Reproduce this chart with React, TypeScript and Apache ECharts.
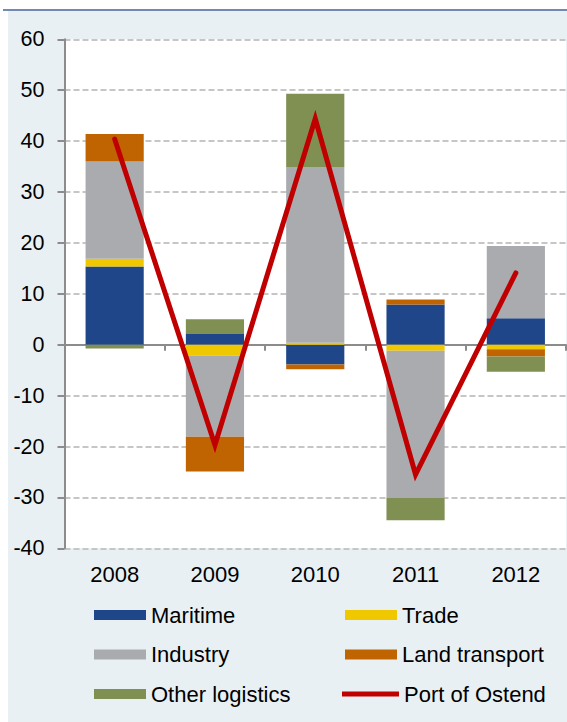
import React, { useEffect, useRef } from "react";
import * as echarts from "echarts";

const years = ["2008", "2009", "2010", "2011", "2012"];
const maritime = [15.35, 2.1, -3.9, 7.9, 5.2];
const trade = [1.55, -2.1, 0.4, -1.2, -0.9];
const industry = [19.1, -16.0, 34.5, -28.9, 14.2];
const landTransport = [5.4, -6.8, -0.9, 1.0, -1.4];
const otherLogistics = [-0.75, 2.9, 14.4, -4.4, -3.0];
const portOfOstend = [40.4, -19.7, 44.4, -25.5, 14.1];

const colors = {
  Maritime: "#20468A",
  Trade: "#F0C800",
  Industry: "#AAABAF",
  "Land transport": "#BF6400",
  "Other logistics": "#809053",
  "Port of Ostend": "#C00000",
};

const FONT = "Liberation Sans, Arial, sans-serif";

export default function App() {
  const ref = useRef<HTMLDivElement>(null);
  useEffect(() => {
    if (!ref.current) return;
    const chart = echarts.init(ref.current, null, { renderer: "svg" });
    const bar = (name: string, data: number[]) => ({
      name,
      type: "bar",
      stack: "total",
      data,
      barWidth: "58%",
      itemStyle: { color: (colors as any)[name] },
      z: 2,
    });
    const legendText = { fontSize: 22, fontFamily: FONT, color: "#000", lineHeight: 22 };
    chart.setOption({
      animation: false,
      textStyle: { fontFamily: FONT },
      graphic: [
        { type: "rect", z: -10, silent: true, shape: { x: 8, y: 11, width: 559, height: 711 }, style: { fill: "#E8F0F4" } },
        { type: "line", z: -10, silent: true, shape: { x1: 3, y1: 10, x2: 567, y2: 10 }, style: { stroke: "#7389B4", lineWidth: 2 } },
      ],
      grid: {
        left: 64.5,
        right: 1,
        top: 39.3,
        bottom: 173.7,
        show: true,
        backgroundColor: "#FFFFFF",
        borderWidth: 0,
      },
      legend: [
        {
          orient: "vertical",
          left: 94,
          top: 604,
          padding: 0,
          itemWidth: 52,
          itemHeight: 10,
          itemGap: 17.5,
          icon: "rect",
          textStyle: legendText,
          data: ["Maritime", "Industry", "Other logistics"],
        },
        {
          orient: "vertical",
          left: 345,
          top: 604,
          padding: 0,
          itemWidth: 52,
          itemHeight: 10,
          itemGap: 17.5,
          icon: "rect",
          textStyle: legendText,
          data: ["Trade", "Land transport"],
        },
        {
          left: 342,
          top: 683,
          padding: 0,
          itemWidth: 57,
          itemHeight: 5,
          icon: "rect",
          textStyle: legendText,
          data: ["Port of Ostend"],
        },
      ],
      xAxis: {
        type: "category",
        data: years,
        boundaryGap: true,
        axisLine: { lineStyle: { color: "#8C8C8C", width: 2 } },
        axisTick: { show: true, length: 6, lineStyle: { color: "#8C8C8C", width: 2 } },
        axisLabel: { fontSize: 22, color: "#000", margin: 15, fontFamily: FONT },
        splitLine: { show: false },
      },
      yAxis: {
        type: "value",
        min: -40,
        max: 60,
        interval: 10,
        axisLine: { show: true, lineStyle: { color: "#8C8C8C", width: 2 } },
        axisTick: { show: true, length: 7, lineStyle: { color: "#8C8C8C", width: 2 } },
        axisLabel: { fontSize: 21.5, color: "#000", margin: 20, fontFamily: FONT },
        splitLine: { show: true, lineStyle: { color: "#C6C6C6", width: 2, type: [6, 3] } },
      },
      series: [
        bar("Maritime", maritime),
        bar("Trade", trade),
        bar("Industry", industry),
        bar("Land transport", landTransport),
        bar("Other logistics", otherLogistics),
        {
          name: "Port of Ostend",
          type: "line",
          data: portOfOstend,
          symbol: "none",
          z: 5,
          itemStyle: { color: colors["Port of Ostend"] },
          lineStyle: { color: colors["Port of Ostend"], width: 5, cap: "round", join: "miter" },
        },
      ],
    });
    return () => chart.dispose();
  }, []);
  return (
    <div style={{ position: "fixed", left: 0, top: 0, width: 567, height: 722, background: "#fff" }}>
      <div ref={ref} style={{ width: 567, height: 722 }} />
    </div>
  );
}
